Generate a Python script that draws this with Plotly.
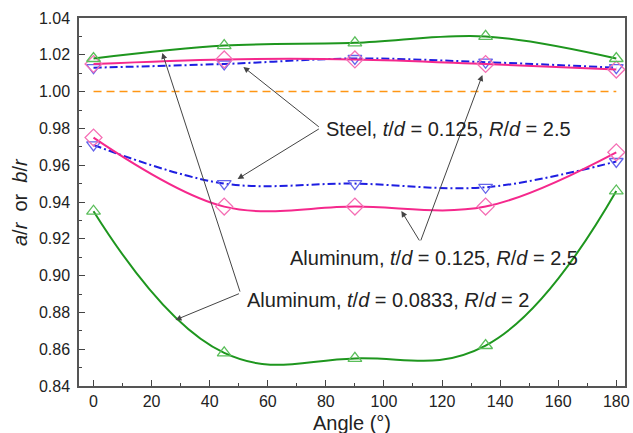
import plotly.graph_objects as go

angles = [0, 45, 90, 135, 180]

al2_upper = [1.018, 1.025, 1.0265, 1.030, 1.018]
al2_lower = [0.935, 0.858, 0.855, 0.862, 0.946]
al25_upper = [1.015, 1.0175, 1.0175, 1.015, 1.012]
al25_lower = [0.975, 0.9375, 0.9375, 0.9375, 0.967]
st_upper = [1.013, 1.015, 1.018, 1.016, 1.013]
st_lower = [0.971, 0.950, 0.950, 0.948, 0.962]
ref_x = [0, 180]
ref_y = [1.0, 1.0]

green = "rgb(30,150,30)"
green_m = "rgb(90,190,90)"
pink = "rgb(245,40,140)"
pink_m = "rgb(245,110,180)"
blue = "rgb(30,30,225)"
blue_m = "rgb(100,100,235)"
orange = "rgb(255,150,20)"

fig = go.Figure()

fig.add_trace(go.Scatter(x=ref_x, y=ref_y, mode="lines",
                         line=dict(color=orange, width=1.5, dash="8px,5px")))

def add(y, color, mcolor, symbol, dash, size, smooth):
    fig.add_trace(go.Scatter(
        x=angles, y=y, mode="lines+markers",
        line=dict(color=color, width=2, shape="spline", smoothing=smooth, dash=dash),
        marker=dict(symbol=symbol, size=size, color=mcolor,
                    line=dict(color=mcolor, width=1.3))))

add(st_upper, blue, blue_m, "triangle-down-open", "8px,3px,2px,3px", 12, 1.0)
add(st_lower, blue, blue_m, "triangle-down-open", "8px,3px,2px,3px", 12, 1.0)
add(al25_upper, pink, pink_m, "diamond-open", "solid", 13, 1.0)
add(al25_lower, pink, pink_m, "diamond-open", "solid", 13, 1.0)
add(al2_upper, green, green_m, "triangle-up-open", "solid", 12, 1.0)
add(al2_lower, green, green_m, "triangle-up-open", "solid", 12, 1.2)

font = "Liberation Sans, Arial, sans-serif"
ann = []

def arrow(hx, hy, tx, ty):
    ann.append(dict(x=hx, y=hy, ax=tx, ay=ty, xref="x", yref="y",
                    axref="x", ayref="y", text="", showarrow=True,
                    arrowhead=2, arrowsize=1.2, arrowwidth=1,
                    arrowcolor="#444", standoff=0, startstandoff=0))

# Steel
arrow(51.6, 1.0134, 78.1, 0.9802)
arrow(49.6, 0.9525, 78.1, 0.9802)
# Aluminum 0.125
arrow(106.0, 0.9351, 112.5, 0.9183)
arrow(133.9, 1.009, 112.5, 0.9183)
# Aluminum 0.0833
arrow(28.2, 0.8759, 50.6, 0.8905)
arrow(23.7, 1.021, 50.6, 0.8905)

def label(x, y, txt):
    ann.append(dict(x=x, y=y, xref="x", yref="y", text=txt, showarrow=False,
                    xanchor="left", yanchor="middle",
                    font=dict(family=font, size=20, color="#222")))

label(79.5, 0.9795, "Steel, <i>t</i>/<i>d</i> = 0.125, <i>R</i>/<i>d</i> = 2.5")
label(66.8, 0.9095, "Aluminum, <i>t</i>/<i>d</i> = 0.125, <i>R</i>/<i>d</i> = 2.5")
label(52.3, 0.8870, "Aluminum, <i>t</i>/<i>d</i> = 0.0833, <i>R</i>/<i>d</i> = 2")

# axis titles
ann.append(dict(x=0.5, y=-0.101, xref="paper", yref="paper", text="Angle (°)",
                showarrow=False, xanchor="center", yanchor="middle",
                font=dict(family=font, size=20, color="#222")))
ann.append(dict(x=-0.108, y=0.5, xref="paper", yref="paper",
                text="<i>a</i>/<i>r</i>  or  <i>b</i>/<i>r</i>", textangle=-90,
                showarrow=False, xanchor="center", yanchor="middle",
                font=dict(family=font, size=20, color="#222")))

axis_common = dict(showgrid=False, zeroline=False, showline=True, linecolor="#555",
                   linewidth=1.5, mirror=True, ticks="inside", ticklen=6,
                   tickwidth=1.2, tickcolor="#444", automargin=False,
                   tickfont=dict(family=font, size=16, color="#222"))

fig.update_layout(
    width=633, height=433, autosize=False,
    margin=dict(l=79, r=8, t=18, b=47),
    paper_bgcolor="white", plot_bgcolor="white",
    showlegend=False, annotations=ann,
    xaxis=dict(range=[-5, 183], dtick=20, tick0=0, ticklabelstandoff=0,
               minor=dict(dtick=10, ticks="inside", ticklen=3, tickcolor="#444"),
               **axis_common),
    yaxis=dict(range=[0.84, 1.04], dtick=0.02, tick0=0.84, tickformat=".2f",
               ticklabelstandoff=4,
               minor=dict(dtick=0.01, ticks="inside", ticklen=3, tickcolor="#444"),
               **axis_common),
)

fig.write_html("out.html")
